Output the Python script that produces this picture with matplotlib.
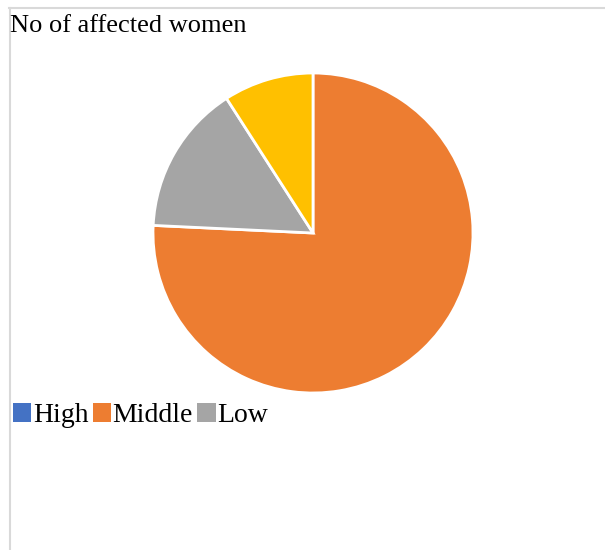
import matplotlib.pyplot as plt
from matplotlib.lines import Line2D
from matplotlib.patches import Patch

# chart data
categories = ['High', 'Middle', 'Low', '']
women = [0, 25, 5, 3]
colors = ['#4472C4', '#ED7D31', '#A5A5A5', '#FFC000']
legend_names = ['High', 'Middle', 'Low']

W, H = 605, 550
FS = 19
plt.rcParams['font.family'] = ['Liberation Serif', 'DejaVu Serif']

fig = plt.figure(figsize=(W / 100, H / 100), dpi=100)

# light frame on top and left, like the document screenshot
frame = dict(color='#d9d9d9', lw=1.5, transform=fig.transFigure)
fig.add_artist(Line2D([9 / W, 1], [1 - 7.5 / H, 1 - 7.5 / H], **frame))
fig.add_artist(Line2D([9.5 / W, 9.5 / W], [0, 1 - 7.5 / H], **frame))

fig.text(10 / W, 1 - 32 / H, 'No of affected women', fontsize=FS,
         va='baseline', ha='left')

# pie area: centre (313, 233), radius 160 px
cx, cy, r = 313, 233, 160
ax = fig.add_axes([(cx - r) / W, 1 - (cy + r) / H, 2 * r / W, 2 * r / H])
ax.pie(women, colors=colors, startangle=90, counterclock=False,
       wedgeprops=dict(edgecolor='white', linewidth=2))
ax.set_xlim(-1, 1)
ax.set_ylim(-1, 1)
ax.set_aspect('equal')
ax.axis('off')

handles = [Patch(facecolor=c, edgecolor='none') for c in colors[:3]]
fig.legend(handles, legend_names, loc='lower left',
           bbox_to_anchor=(13 / W, 1 - 428 / H), ncol=3, frameon=False,
           fontsize=20, handlelength=0.66, handleheight=0.66,
           handletextpad=0.06, columnspacing=0.15, borderpad=0,
           borderaxespad=0)

fig.savefig('out.png', dpi=100)
